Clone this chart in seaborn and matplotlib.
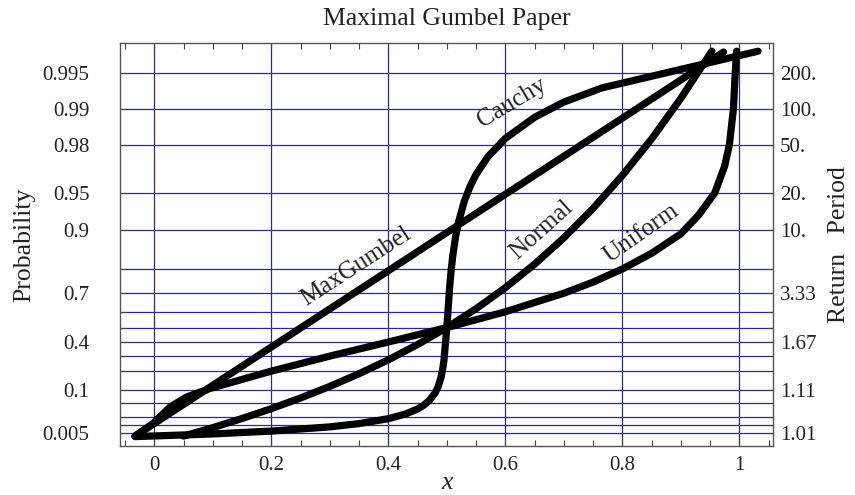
import numpy as np
import matplotlib
matplotlib.use('Agg')
import matplotlib.pyplot as plt
import seaborn as sns
from matplotlib.ticker import FixedLocator, MultipleLocator

# axis ticks and grid (probabilities)
prob_ticks = [0.005, 0.1, 0.4, 0.7, 0.9, 0.95, 0.98, 0.99, 0.995]
prob_labels = ['0.005', '0.1', '0.4', '0.7', '0.9', '0.95', '0.98', '0.99', '0.995']
period_labels = ['1.01', '1.11', '1.67', '3.33', '10.', '20.', '50.', '100.', '200.']
minor_probs = [0.01, 0.02, 0.05, 0.2, 0.3, 0.5, 0.6, 0.8]
x_ticks = [0, 0.2, 0.4, 0.6, 0.8, 1.0]
x_labels = ['0', '0.2', '0.4', '0.6', '0.8', '1']

# curves: x and cumulative probability
maxgumbel_x = [-0.033, 0.2, 0.4, 0.6, 0.8, 0.973]
maxgumbel_p = [0.0035, 0.364, 0.7938, 0.9487, 0.988, 0.99665]

cauchy_x = [-0.033, 0.1, 0.2, 0.3, 0.35, 0.4, 0.43, 0.45, 0.46, 0.47, 0.48, 0.485,
            0.49, 0.4925, 0.495, 0.5, 0.505, 0.5075, 0.51, 0.515, 0.52, 0.53, 0.54,
            0.55, 0.57, 0.6, 0.65, 0.7, 0.765, 1.032]
cauchy_p = [0.0033, 0.0044, 0.0059, 0.0088, 0.0118, 0.0176, 0.0252, 0.0352, 0.0439,
            0.0582, 0.0862, 0.1127, 0.1613, 0.2028, 0.2668, 0.5, 0.7332, 0.7972,
            0.8387, 0.8873, 0.9138, 0.9418, 0.9561, 0.9648, 0.9748, 0.9823, 0.9882,
            0.9912, 0.9933, 0.9967]

normal_x = [0.05, 0.1, 0.15, 0.2, 0.25, 0.3, 0.35, 0.4, 0.45, 0.5, 0.55, 0.6, 0.65,
            0.7, 0.75, 0.8, 0.85, 0.9, 0.953]
normal_p = [0.0035, 0.0082, 0.0179, 0.0359, 0.0668, 0.1151, 0.1841, 0.2743, 0.3821,
            0.5, 0.6179, 0.7257, 0.8159, 0.8849, 0.9332, 0.9641, 0.9821, 0.9918, 0.9967]

uniform_x = [-0.033, -0.002, 0.027, 0.055, 0.095, 0.2, 0.3, 0.4, 0.5, 0.6, 0.7, 0.75,
             0.8, 0.85, 0.9, 0.93, 0.958, 0.975, 0.983, 0.99, 0.993, 0.9955]
uniform_p = [0.0035, 0.012, 0.04, 0.07, 0.105, 0.2, 0.3, 0.4, 0.5, 0.6, 0.7, 0.75,
             0.8, 0.848, 0.893, 0.924, 0.95, 0.97, 0.98, 0.99, 0.995, 0.9967]

curves = [('MaxGumbel', maxgumbel_x, maxgumbel_p),
          ('Cauchy', cauchy_x, cauchy_p),
          ('Normal', normal_x, normal_p),
          ('Uniform', uniform_x, uniform_p)]

label_x = [0.345, 0.612, 0.662, 0.832]
label_p = [0.8077, 0.991, 0.9003, 0.8941]
label_rot = [33, 31, 42, 35]


def gumbel_fwd(p):
    p = np.clip(np.asarray(p, dtype=float), 1e-12, 1 - 1e-12)
    return -np.log(-np.log(p))


def gumbel_inv(y):
    return np.exp(-np.exp(-np.asarray(y, dtype=float)))


sns.set_style('ticks')
plt.rcParams['font.family'] = ['Liberation Serif', 'DejaVu Serif']
navy = '#2b2b8f'
txt = '#222222'

fig = plt.figure(figsize=(8.55, 4.95), dpi=100)
ax = fig.add_axes([0.1404, 0.099, 0.7637, 0.8147])

for name, xs, ps in curves:
    sns.lineplot(x=xs, y=ps, ax=ax, color='black', linewidth=5.2, sort=False,
                 estimator=None, solid_capstyle='round', solid_joinstyle='round', zorder=3)

ax.set_yscale('function', functions=(gumbel_fwd, gumbel_inv))
ax.set_xlim(-0.0586, 1.0576)
ax.set_ylim(0.00106, 0.99720)

ax.set_xticks(x_ticks, labels=x_labels)
ax.xaxis.set_minor_locator(MultipleLocator(0.05))
ax.set_yticks(prob_ticks, labels=prob_labels)
ax.yaxis.set_minor_locator(FixedLocator(minor_probs))

ax.set_axisbelow(True)
ax.grid(True, which='both', axis='y', color=navy, linewidth=0.9)
ax.grid(True, which='major', axis='x', color=navy, linewidth=0.9)

ax.tick_params(axis='x', which='both', direction='in', top=True, length=4, width=0.8,
               color='#444444', labelsize=15, labelcolor=txt, pad=7)
ax.tick_params(axis='y', which='both', direction='in', length=4, width=0.8,
               color='#444444', labelsize=15, labelcolor=txt, pad=22)

for s in ax.spines.values():
    s.set_color('#555555')
    s.set_linewidth(1.0)

# right axis: return period
ax2 = ax.twinx()
ax2.set_yscale('function', functions=(gumbel_fwd, gumbel_inv))
ax2.set_ylim(ax.get_ylim())
ax2.set_yticks(prob_ticks, labels=period_labels)
ax2.yaxis.set_minor_locator(FixedLocator(minor_probs))
ax2.tick_params(axis='y', which='both', direction='in', length=4, width=0.8,
                color='#444444', labelsize=15, labelcolor=txt, pad=5)
for s in ax2.spines.values():
    s.set_visible(False)

for name, lx, lp, rot in zip([c[0] for c in curves], label_x, label_p, label_rot):
    ax.text(lx, lp, name, rotation=rot, rotation_mode='anchor', ha='center', va='center',
            fontsize=18, color=txt, zorder=4)

ax.set_title('Maximal Gumbel Paper', fontsize=18.5, color=txt, pad=13)
ax.set_xlabel('x', fontsize=18.5, fontstyle='italic', color=txt, labelpad=-2)
ax.set_ylabel('Probability', fontsize=18.5, color=txt, labelpad=5)
ax2.set_ylabel('Return   Period', fontsize=18.5, color=txt, labelpad=8)

fig.savefig('out.png', dpi=100)
